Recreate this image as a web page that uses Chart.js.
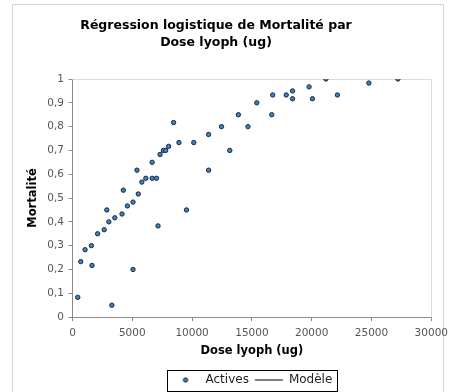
<!DOCTYPE html>
<html>
<head>
<meta charset="utf-8">
<script src="https://cdn.jsdelivr.net/npm/chart.js@4/dist/chart.umd.min.js"></script>
<style>
    html, body { margin: 0; padding: 0; background: #fff; overflow: hidden; }
    #frame { position: absolute; left: 12px; top: 4px; width: 430px; height: 420px; border: 1px solid #d4d4d4; }
    #wrap { position: absolute; left: 0; top: 0; width: 454px; height: 400px; }
</style>
</head>
<body>
<div id="frame"></div>
<div id="wrap"><canvas id="mortalityChart"></canvas></div>
<script>
// observed doses (ug) and mortality rates
const doses = [
    440, 690, 1050, 1580, 1630, 2100, 2650, 2870, 3040, 3290,
    3540, 4140, 4250, 4590, 5060, 5060, 5390, 5500, 5800, 6130,
    6660, 6660, 7020, 7150, 7320, 7600, 7790, 8040, 8450, 8900,
    9530, 10140, 11380, 11380, 12460, 13150, 13870, 14670, 15410, 16660,
    16740, 17870, 18400, 18400, 19780, 20060, 21190, 22150, 24780, 27210
];
const mortality = [
    0.083, 0.233, 0.283, 0.300, 0.217, 0.350, 0.367, 0.450, 0.400, 0.050,
    0.417, 0.433, 0.533, 0.467, 0.483, 0.200, 0.617, 0.517, 0.567, 0.583,
    0.650, 0.583, 0.583, 0.383, 0.683, 0.700, 0.700, 0.717, 0.817, 0.733,
    0.450, 0.733, 0.767, 0.617, 0.800, 0.700, 0.850, 0.800, 0.900, 0.850,
    0.933, 0.933, 0.950, 0.917, 0.967, 0.917, 1.000, 0.933, 0.983, 1.000
];
const modelPoints = [];

const seriesLabels = ['Actives', 'Modèle'];
const titleLines = ['Régression logistique de Mortalité par', 'Dose lyoph (ug)'];
const xAxisTitle = 'Dose lyoph (ug)';
const yAxisTitle = 'Mortalité';

const FONT = "'DejaVu Sans', Verdana, sans-serif";
const DOT_FILL = '#3d80c2';
const DOT_EDGE = '#1b2b42';
const AXIS_GREY = '#8a8a8a';

// small marker used as the legend symbol of the scatter series
function makeDot() {
    const c = document.createElement('canvas');
    c.width = 8;
    c.height = 8;
    const g = c.getContext('2d');
    g.beginPath();
    g.arc(4, 4, 2.2, 0, Math.PI * 2);
    g.fillStyle = DOT_FILL;
    g.fill();
    g.lineWidth = 1;
    g.strokeStyle = DOT_EDGE;
    g.stroke();
    return c;
}
const legendDot = makeDot();

// light frame on the top and right side of the plot area
const plotFrame = {
    id: 'plotFrame',
    beforeDatasetsDraw(chart) {
        const { ctx, chartArea: a } = chart;
        ctx.save();
        ctx.strokeStyle = '#dcdcdc';
        ctx.lineWidth = 1;
        ctx.beginPath();
        ctx.moveTo(Math.round(a.left) + 0.5, Math.round(a.top) + 0.5);
        ctx.lineTo(Math.round(a.right) + 0.5, Math.round(a.top) + 0.5);
        ctx.lineTo(Math.round(a.right) + 0.5, Math.round(a.bottom) + 0.5);
        ctx.stroke();
        ctx.restore();
    }
};

// box drawn around the legend entries
const legendBox = {
    id: 'legendBox',
    afterDraw(chart) {
        const boxes = chart.legend && chart.legend.legendHitBoxes;
        if (!boxes || !boxes.length) {
            return;
        }
        const first = boxes[0];
        const last = boxes[boxes.length - 1];
        const left = Math.round(first.left - 5) + 0.5;
        const right = Math.round(last.left + last.width + 5) + 0.5;
        const top = Math.round(first.top - 4) + 0.5;
        const bottom = Math.round(first.top + first.height + 5) + 0.5;
        const ctx = chart.ctx;
        ctx.save();
        ctx.strokeStyle = '#000';
        ctx.lineWidth = 1;
        ctx.strokeRect(left, top, right - left, bottom - top);
        ctx.restore();
    }
};

function formatDecimal(value) {
    const v = Math.round(value * 10) / 10;
    return String(v).replace('.', ',');
}

const ctx = document.getElementById('mortalityChart');

new Chart(ctx, {
    type: 'scatter',
    data: {
        datasets: [
            {
                label: seriesLabels[0],
                data: doses.map((d, i) => ({ x: d, y: mortality[i] })),
                backgroundColor: DOT_FILL,
                borderColor: DOT_EDGE,
                borderWidth: 1,
                pointRadius: 2.2,
                pointHoverRadius: 2.2
            },
            {
                label: seriesLabels[1],
                type: 'line',
                data: modelPoints,
                borderColor: '#000',
                backgroundColor: '#000',
                borderWidth: 1,
                pointStyle: 'line',
                pointRadius: 0
            }
        ]
    },
    options: {
        responsive: true,
        maintainAspectRatio: false,
        animation: false,
        layout: { padding: { left: 0, right: 22, top: 0, bottom: 4 } },
        plugins: {
            title: {
                display: true,
                text: titleLines,
                color: '#000',
                font: { family: FONT, size: 12.5, weight: 'bold', lineHeight: 1.36 },
                padding: { top: 17.5, bottom: 27.5 }
            },
            legend: {
                position: 'bottom',
                fullSize: false,
                labels: {
                    usePointStyle: true,
                    pointStyleWidth: 28,
                    padding: 6,
                    color: '#222',
                    font: { family: FONT, size: 12 },
                    generateLabels(chart) {
                        const items = Chart.defaults.plugins.legend.labels.generateLabels(chart);
                        items[0].pointStyle = legendDot;
                        return items;
                    }
                }
            },
            tooltip: { enabled: false }
        },
        scales: {
            x: {
                type: 'linear',
                min: 0,
                max: 30000,
                border: { color: AXIS_GREY },
                grid: { drawOnChartArea: false, drawTicks: true, tickLength: 4, color: AXIS_GREY },
                ticks: {
                    stepSize: 5000,
                    padding: 6,
                    color: '#555',
                    font: { family: FONT, size: 10.5 },
                    callback: (v) => String(v)
                },
                title: {
                    display: true,
                    text: xAxisTitle,
                    color: '#000',
                    font: { family: FONT, size: 11.5, weight: 'bold' },
                    padding: { top: -1.5, bottom: 10 }
                }
            },
            y: {
                type: 'linear',
                min: 0,
                max: 1,
                border: { color: AXIS_GREY },
                grid: { drawOnChartArea: false, drawTicks: true, tickLength: 4, color: AXIS_GREY },
                ticks: {
                    stepSize: 0.1,
                    padding: 4.5,
                    color: '#555',
                    font: { family: FONT, size: 10.5 },
                    callback: formatDecimal
                },
                title: {
                    display: true,
                    text: yAxisTitle,
                    color: '#000',
                    font: { family: FONT, size: 11.5, weight: 'bold' },
                    padding: { top: 26, bottom: 3 }
                }
            }
        }
    },
    plugins: [plotFrame, legendBox]
});
</script>
</body>
</html>
